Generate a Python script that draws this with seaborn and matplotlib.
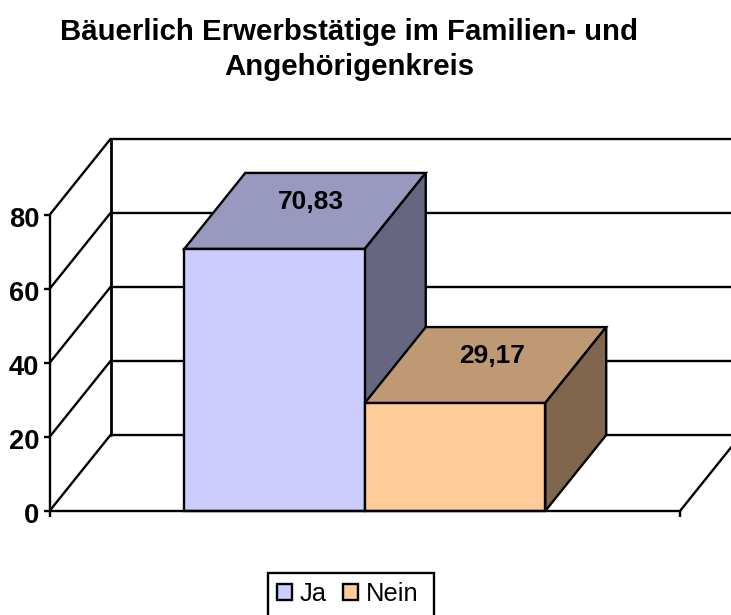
import matplotlib
matplotlib.use("Agg")
import matplotlib.pyplot as plt
from matplotlib.patches import Polygon, Rectangle
from matplotlib.transforms import ScaledTranslation
import pandas as pd
import seaborn as sns

title = "Bäuerlich Erwerbstätige im Familien- und\nAngehörigenkreis"
series = ["Ja", "Nein"]
values = [70.83, 29.17]
value_labels = ["70,83", "29,17"]
front_colors = ["#CCCCFF", "#FFCC99"]
top_colors = ["#9999BF", "#BF9973"]
side_colors = ["#666680", "#80664D"]
y_ticks = [0, 20, 40, 60, 80]

W, H = 731, 615
sns.set_theme(style="white")
plt.rcParams["font.family"] = ["Liberation Sans", "DejaVu Sans"]

fig = plt.figure(figsize=(W / 100, H / 100), dpi=100, facecolor="white")
ax = fig.add_axes([49.5 / W, 1 - 511 / H, 630.5 / W, 296 / H])
ax.patch.set_alpha(0)

df = pd.DataFrame({"group": [""] * len(series), "series": series, "value": values})
lw = 1.7
sns.barplot(data=df, x="group", y="value", hue="series", hue_order=series,
            palette=front_colors, width=0.5725, gap=0, saturation=1,
            edgecolor="black", linewidth=lw, errorbar=None, ax=ax, zorder=6)

ax.set_xlim(-0.5, 0.5)
ax.set_ylim(0, 80)
depth_x = 61 / 630.5
depth_y = 76 / 3.7
x0, x1 = -0.5, 0.5

# wall and floor lines
for t in y_ticks:
    ax.plot([x0, x0 + depth_x, x1 + depth_x], [t, t + depth_y, t + depth_y],
            color="black", lw=lw, clip_on=False, zorder=1, solid_joinstyle="miter")
ax.plot([x0 + depth_x] * 2, [depth_y, 80 + depth_y], color="black", lw=lw + 0.3,
        clip_on=False, zorder=1)
ax.plot([x1, x1 + depth_x], [0, depth_y], color="black", lw=lw, clip_on=False, zorder=1)

# 3D faces, built from the bars that seaborn drew
bars = [p for p in ax.patches if p.get_height() > 0]
bars = sorted(bars, key=lambda p: p.get_x())
for i, bar in enumerate(bars):
    l, r, h = bar.get_x(), bar.get_x() + bar.get_width(), bar.get_height()
    z = 3 + i
    ax.add_patch(Polygon([(l, h), (r, h), (r + depth_x, h + depth_y), (l + depth_x, h + depth_y)],
                         closed=True, fc=top_colors[i], ec="black", lw=lw, clip_on=False, zorder=z))
    ax.add_patch(Polygon([(r, 0), (r, h), (r + depth_x, h + depth_y), (r + depth_x, depth_y)],
                         closed=True, fc=side_colors[i], ec="black", lw=lw, clip_on=False, zorder=z))
    bar.set_clip_on(False)
    ax.annotate(value_labels[i], xy=((l + r + depth_x) / 2, h + depth_y / 2),
                xytext=(4.5, 6.5), textcoords="offset points", ha="center", va="center",
                fontsize=19, fontweight="bold", color="black", zorder=9,
                annotation_clip=False)

sns.despine(ax=ax, top=True, right=True)
for s in ("left", "bottom"):
    ax.spines[s].set_linewidth(lw)
    ax.spines[s].set_color("black")
    ax.spines[s].set_zorder(7)
ax.set_xticks([x0, x1])
ax.set_xticklabels(["", ""])
ax.set_yticks(y_ticks)
ax.set_yticklabels([str(t) for t in y_ticks])
ax.tick_params(axis="both", length=4.5, width=lw, color="black", left=True, bottom=True, pad=2)
ax.tick_params(axis="y", labelsize=19.6, labelcolor="black")
shift = ScaledTranslation(-1 / 100, -2 / 100, fig.dpi_scale_trans)
for lab in ax.get_yticklabels():
    lab.set_fontweight("bold")
    lab.set_transform(lab.get_transform() + shift)
ax.set_xlabel("")
ax.set_ylabel("")

# legend frame runs off the bottom edge of the picture, as in the original
fig.add_artist(Rectangle((268 / W, -10 / H), 166 / W, (H + 10 - 573) / H,
                         transform=fig.transFigure, fc="white", ec="black", lw=lw))
handles, labels = ax.get_legend_handles_labels()
leg = ax.legend(handles, labels, ncol=2, loc="center", bbox_to_anchor=(347.5 / W, 1 - 594 / H),
                bbox_transform=fig.transFigure, fontsize=18.4, frameon=False,
                handlelength=0.6, handleheight=0.6,
                handletextpad=0.3, columnspacing=0.62, borderpad=0.42, borderaxespad=0)
leg.set_zorder(20)
leg.remove()
fig.add_artist(leg)
for t in leg.get_texts():
    t.set_color("black")

fig.text(349 / W, 1 - 49.5 / H, title, ha="center", va="center", fontsize=21.2,
         fontweight="bold", color="black", linespacing=1.3)

fig.savefig("out.png", dpi=100, facecolor="white")
